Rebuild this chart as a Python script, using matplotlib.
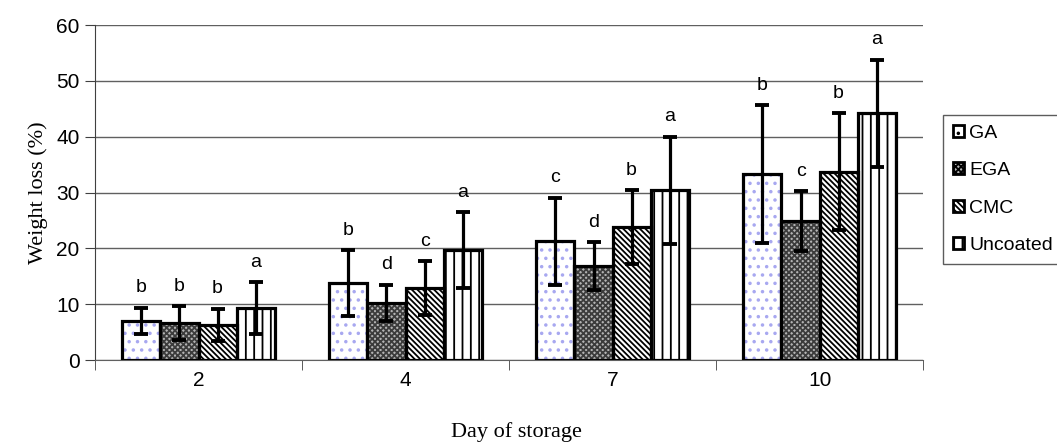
import matplotlib.pyplot as plt
from matplotlib.patches import Patch
import numpy as np

plt.rcParams['hatch.linewidth'] = 1.3

days = ["2", "4", "7", "10"]
treatments = ["GA", "EGA", "CMC", "Uncoated"]

# mean weight loss (%) per treatment, one value per storage day
ga = [7.0, 13.8, 21.3, 33.3]
ega = [6.6, 10.2, 16.8, 24.9]
cmc = [6.3, 12.9, 23.8, 33.7]
uncoated = [9.3, 19.7, 30.4, 44.2]

# error bar half-widths
ga_err = [2.4, 5.9, 7.8, 12.3]
ega_err = [3.0, 3.3, 4.3, 5.3]
cmc_err = [2.9, 4.8, 6.6, 10.5]
uncoated_err = [4.6, 6.8, 9.6, 9.6]

# significance letters
ga_lbl = ["b", "b", "c", "b"]
ega_lbl = ["b", "d", "d", "c"]
cmc_lbl = ["b", "c", "b", "b"]
uncoated_lbl = ["a", "a", "a", "a"]

series = [ga, ega, cmc, uncoated]
errors = [ga_err, ega_err, cmc_err, uncoated_err]
letters = [ga_lbl, ega_lbl, cmc_lbl, uncoated_lbl]

# (facecolor, hatch colour, hatch)
styles = [("white", "#a8a8f0", ".."),
          ("#b4b4b4", "#3c3c3c", "xxxxxx"),
          ("white", "black", "\\\\\\\\\\\\"),
          ("white", "black", "||")]

fig = plt.figure(figsize=(10.57, 4.42), dpi=100)
ax = fig.add_axes([0.0899, 0.1855, 0.7834, 0.7579])

x = np.arange(len(days))
w = 0.184
for i, (vals, errs, lbls) in enumerate(zip(series, errors, letters)):
    face, hc, h = styles[i]
    pos = x + (i - 1.5) * w
    ax.bar(pos, vals, w, color=face, edgecolor=hc, hatch=h, linewidth=0, zorder=2)
    ax.bar(pos, vals, w, fill=False, edgecolor="black", linewidth=2.3, zorder=3)
    ax.errorbar(pos, vals, yerr=errs, fmt="none", ecolor="black",
                elinewidth=2.3, capsize=5, capthick=2.8, zorder=4)
    for p, v, e, t in zip(pos, vals, errs, lbls):
        ax.annotate(t, (p, v + e), xytext=(0, 11), textcoords="offset points",
                    ha="center", va="baseline", fontsize=14,
                    family="Liberation Sans")

ax.set_xlim(-0.5, 3.5)
ax.set_ylim(0, 60)
ax.set_yticks(range(0, 61, 10))
ax.set_xticks(x)
ax.set_xticklabels(days)
ax.set_xticks(np.arange(-0.5, 3.6, 1), minor=True)
ax.tick_params(axis="x", which="major", length=0, pad=8)
ax.tick_params(axis="x", which="minor", length=7, color="#404040")
ax.tick_params(axis="y", length=7, color="#404040", pad=4)
for lab in ax.get_xticklabels() + ax.get_yticklabels():
    lab.set_family("Liberation Sans")
    lab.set_fontsize(15)

ax.yaxis.grid(True, color="#606060", linewidth=1.0, zorder=0)
ax.set_axisbelow(True)
for s in ["top", "right"]:
    ax.spines[s].set_visible(False)
ax.spines["left"].set_color("#404040")
ax.spines["bottom"].set_color("#606060")

ax.set_ylabel("Weight loss (%)", family="Liberation Serif", fontsize=16, labelpad=6)
fig.text(0.489, 0.022, "Day of storage", family="Liberation Serif", fontsize=16,
         ha="center", va="center")

handles = [Patch(facecolor=styles[i][0], edgecolor="black", hatch=styles[i][2],
                 linewidth=2.0) for i in range(4)]
leg = fig.legend(handles, treatments, loc="upper left",
                 bbox_to_anchor=(0.892, 0.74), frameon=True, fancybox=False,
                 handlelength=0.6, handleheight=0.6, handletextpad=0.25,
                 labelspacing=1.05, borderaxespad=0, borderpad=0.5,
                 prop={"family": "Liberation Sans", "size": 14})
leg.get_frame().set_edgecolor("#333333")
leg.get_frame().set_linewidth(1.0)

fig.savefig("out.png", dpi=100)
